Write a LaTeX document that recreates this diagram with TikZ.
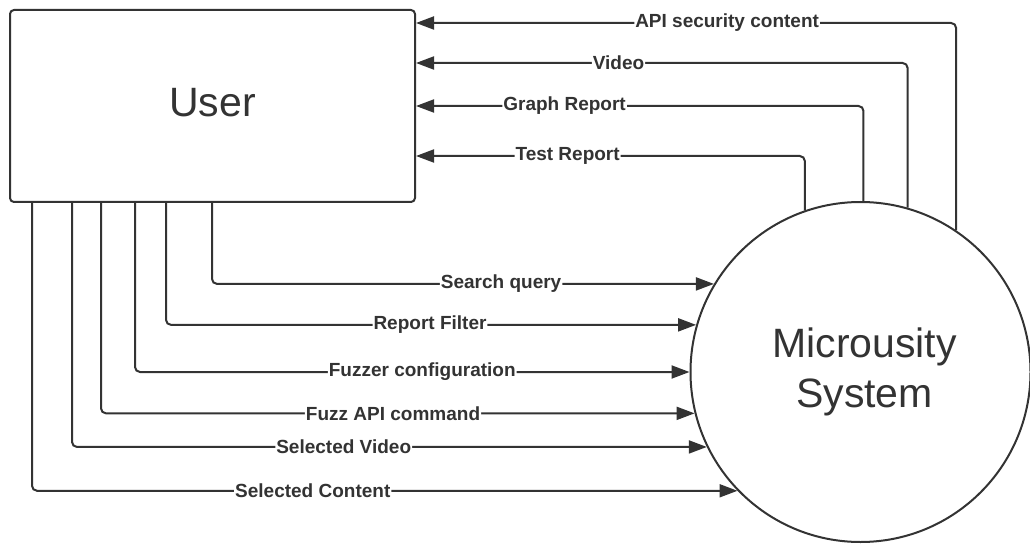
\documentclass[tikz,border=0pt]{standalone}
\usepackage{fontspec}
\setmainfont{Liberation Sans}
\usetikzlibrary{arrows.meta}
\definecolor{ink}{HTML}{333333}
\tikzset{
  entity/.style={draw=ink, line width=2pt, rounded corners=4pt,
    minimum width=405pt, minimum height=192pt, inner sep=0pt,
    text=ink, font=\fontsize{41}{46}\selectfont},
  process/.style={draw=ink, line width=2pt, circle, minimum size=340pt,
    inner sep=0pt, text=ink, font=\fontsize{41}{50}\selectfont},
  flow/.style={draw=ink, line width=2pt, rounded corners=5pt,
    -{Triangle[length=18pt,width=13pt]}},
  flowlabel/.style={fill=white, inner sep=1pt, text=ink,
    font=\fontsize{19}{22}\selectfont\bfseries}
}
\begin{document}
\begin{tikzpicture}[x=1pt, y=-1pt]
  \useasboundingbox (0,0) rectangle (1030,545);

  % external entity and process
  \node[entity] (user) at (212.5,106) {\raisebox{8pt}{User}};
  \node[process] (sys) at (860.5,372)
    {\hspace*{8pt}\raisebox{5pt}{\begin{tabular}{@{}c@{}}Microusity\\System\end{tabular}}};

  % outputs of the system back to the user
  \draw[flow] (sys.56.2) |- ([yshift=-14pt]user.north east)
    node[flowlabel, pos=0.712] {API security content};
  \draw[flow] (sys.74.5) |- ([yshift=-54pt]user.north east)
    node[flowlabel, pos=0.794] {Video};
  \draw[flow] (sys.89.5) |- ([yshift=-97pt]user.north east)
    node[flowlabel, pos=0.834] {Graph Report};
  \draw[flow] (sys.109.8) |- ([yshift=-147pt]user.north east)
    node[flowlabel, pos=0.805] {Test Report};

  % inputs from the user to the system
  \draw[flow] ([xshift=203pt]user.south west) |- (sys.149.6)
    node[flowlabel, pos=0.788] {Search query};
  \draw[flow] ([xshift=157pt]user.south west) |- (sys.164.65)
    node[flowlabel, pos=0.749] {Report Filter};
  \draw[flow] ([xshift=126pt]user.south west) |- (sys.180)
    node[flowlabel, pos=0.759] {Fuzzer configuration};
  \draw[flow] ([xshift=92pt]user.south west) |- (sys.194.3)
    node[flowlabel, pos=0.746] {Fuzz API command};
  \draw[flow] ([xshift=63pt]user.south west) |- (sys.206.2)
    node[flowlabel, pos=0.714] {Selected Video};
  \draw[flow] ([xshift=23pt]user.south west) |- (sys.224.4)
    node[flowlabel, pos=0.699] {Selected Content};
\end{tikzpicture}
\end{document}
